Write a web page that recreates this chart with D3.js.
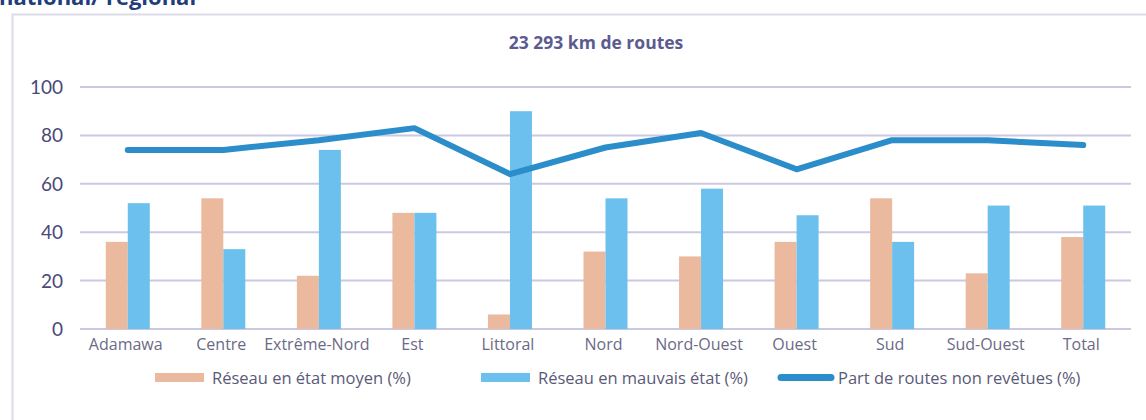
<!DOCTYPE html>
<html><head><meta charset="utf-8">
<script src="https://cdn.jsdelivr.net/npm/d3@7"></script>
<style>body{margin:0;background:#fff;} svg{display:block;}</style>
</head><body>
<svg id="c" width="1146" height="420"></svg>
<script>
const categories = ["Adamawa","Centre","Extrême-Nord","Est","Littoral","Nord","Nord-Ouest","Ouest","Sud","Sud-Ouest","Total"];
const moyen = [36,54,22,48,6,32,30,36,54,23,38];
const mauvais = [52,33,74,48,90,54,58,47,36,51,51];
const nonRevetues = [74,74,78,83,64,75,81,66,78,78,76];
const yTicks = [0,20,40,60,80,100];
const seriesNames = ["Réseau en état moyen (%)","Réseau en mauvais état (%)","Part de routes non revêtues (%)"];
const colors = ["#ebb99d","#6cc0ed","#2b8dc9"];

const svg = d3.select("#c");
// header (cut off at the top, as in the source)
svg.append("text").attr("x",-1).attr("y",5).attr("font-family","Open Sans").attr("font-weight","bold")
  .attr("font-size",22).attr("fill","#1f3d7a").text("national/ regional");
// frame
svg.append("rect").attr("x",12.5).attr("y",14.5).attr("width",1150).attr("height",420)
  .attr("fill","#fff").attr("stroke","#dcdce8").attr("stroke-width",2);

const x = d3.scaleBand().domain(categories).range([80,1131]);
const y = d3.scaleLinear().domain([0,100]).range([329,87]);

svg.append("text").attr("x",596).attr("y",49).attr("text-anchor","middle")
  .attr("font-family","Open Sans").attr("font-weight","bold").attr("font-size",17.5)
  .attr("fill","#5c5b90").text("23 293 km de routes");

// grid
svg.append("g").selectAll("line").data(yTicks).join("line")
  .attr("x1",80).attr("x2",1131).attr("y1",d=>y(d)).attr("y2",d=>y(d))
  .attr("stroke","#cbc8e2").attr("stroke-width",2);

// y axis labels
svg.append("g").selectAll("text").data(yTicks).join("text")
  .attr("x",63).attr("y",d=>y(d)+7).attr("text-anchor","end")
  .attr("font-family","Lato").attr("font-size",19).attr("fill","#4a4879").text(d=>d);

const bw = 22;
const g = svg.append("g");
g.selectAll(".m").data(categories).join("rect")
  .attr("x",d=>x(d)+x.bandwidth()/2-bw).attr("width",bw)
  .attr("y",(d,i)=>y(moyen[i])).attr("height",(d,i)=>y(0)-y(moyen[i])).attr("fill",colors[0]);
g.selectAll(".b").data(categories).join("rect")
  .attr("x",d=>x(d)+x.bandwidth()/2).attr("width",bw)
  .attr("y",(d,i)=>y(mauvais[i])).attr("height",(d,i)=>y(0)-y(mauvais[i])).attr("fill",colors[1]);

const line = d3.line().x((d,i)=>x(categories[i])+x.bandwidth()/2).y(d=>y(d));
svg.append("path").attr("d",line(nonRevetues)).attr("fill","none").attr("stroke",colors[2])
  .attr("stroke-width",6).attr("stroke-linecap","round").attr("stroke-linejoin","round");

// x labels
svg.append("g").selectAll("text").data(categories).join("text")
  .attr("x",d=>x(d)+x.bandwidth()/2-2).attr("y",350).attr("text-anchor","middle")
  .attr("font-family","Open Sans").attr("font-size",16).attr("fill","#6b6a86").text(d=>d);

// legend
const lx = [155,481,778];
const lg = svg.append("g");
seriesNames.forEach((n,i)=>{
  if(i<2) lg.append("rect").attr("x",lx[i]).attr("y",373).attr("width",49).attr("height",9).attr("fill",colors[i]);
  else lg.append("line").attr("x1",lx[i]+3).attr("x2",lx[i]+53).attr("y1",377.5).attr("y2",377.5)
    .attr("stroke",colors[i]).attr("stroke-width",7).attr("stroke-linecap","round");
  lg.append("text").attr("x",lx[i]+(i<2?57:60)).attr("y",383.5).attr("font-family","Open Sans")
    .attr("font-size",16.5).attr("fill","#5a5a78").text(n);
});
</script>
</body></html>
